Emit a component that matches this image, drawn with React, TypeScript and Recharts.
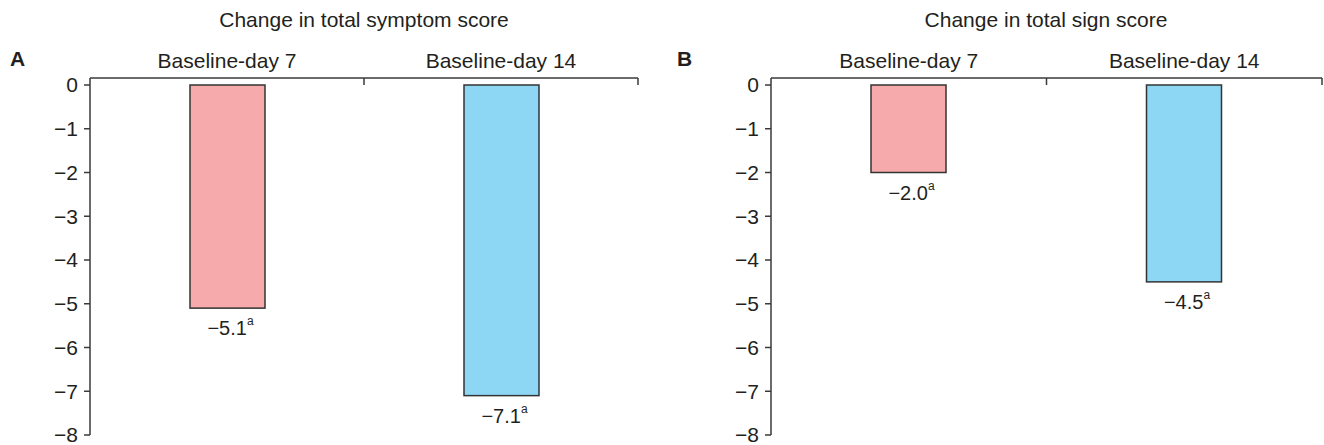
import { BarChart, Bar, XAxis, YAxis, LabelList } from "recharts"

const categories = ["Baseline-day 7", "Baseline-day 14"]
const symptomChange = [-5.1, -7.1]
const signChange = [-2.0, -4.5]
const positions = [0.5, 1.5]
const barColors = ["#f6aaab", "#8dd7f5"]
const yTicks = [0, -1, -2, -3, -4, -5, -6, -7, -8]
const boundaryTicks = [0, 1, 2]
const titles = ["Change in total symptom score", "Change in total sign score"]
const panelLetters = ["A", "B"]

const ink = "#231f20"
const axisColor = "#3a3a3a"
const font = "'Liberation Sans', Arial, sans-serif"

const minus = (v: number) => (v < 0 ? "\u2212" + Math.abs(v) : String(v))

function ValueLabel(props: any) {
  const { x, y, width, height, value } = props
  const bottom = Math.max(y, y + height)
  const txt = "\u2212" + Math.abs(value).toFixed(1)
  return (
    <text x={x + width / 2 + 3} y={bottom + 27} textAnchor="middle" fontSize={20} fill={ink} fontFamily={font}>
      {txt}
      <tspan fontSize={12} dy={-10}>a</tspan>
    </text>
  )
}

const NoLabel = () => <g />

function Panel({ values, marginLeft, marginRight }: { values: number[]; marginLeft: number; marginRight: number }) {
  const data = categories.map((c, i) => ({ name: c, value: values[i], pos: positions[i], color: barColors[i] }))
  return (
    <BarChart
      width={662}
      height={445}
      data={data}
      margin={{ top: 40, right: marginRight, bottom: 10, left: marginLeft }}
      style={{ fontFamily: font, overflow: "visible" }}
    >
      <XAxis
        xAxisId="cat"
        dataKey="name"
        orientation="top"
        height={38}
        tickLine={false}
        tickSize={0}
        tickMargin={10}
        axisLine={{ stroke: axisColor, strokeWidth: 1.5 }}
        tick={{ fill: ink, fontSize: 21 }}
      />
      <XAxis
        xAxisId="bounds"
        type="number"
        dataKey="pos"
        orientation="top"
        domain={[0, 2]}
        ticks={boundaryTicks}
        interval={0}
        height={7}
        tick={NoLabel}
        tickSize={7}
        axisLine={false}
        tickLine={{ stroke: axisColor, strokeWidth: 1.5 }}
      />
      <YAxis
        width={50}
        domain={[-8, 0]}
        ticks={yTicks}
        interval={0}
        tickFormatter={minus}
        tickSize={6}
        tickMargin={6}
        axisLine={{ stroke: axisColor, strokeWidth: 1.5 }}
        tickLine={{ stroke: axisColor, strokeWidth: 1.5 }}
        tick={{ fill: ink, fontSize: 21 }}
      />
      <Bar xAxisId="cat" dataKey="value" barSize={75} stroke="#333" strokeWidth={1.5} isAnimationActive={false}
        shape={(p: any) => {
          const top = Math.min(p.y, p.y + p.height)
          return <rect x={p.x} y={top} width={p.width} height={Math.abs(p.height)} fill={p.payload.color} stroke="#333" strokeWidth={1.5} />
        }}
      >
        <LabelList dataKey="value" content={ValueLabel} />
      </Bar>
    </BarChart>
  )
}

export default function App() {
  return (
    <div style={{ position: "absolute", left: 0, top: 0, width: 1324, height: 445, background: "#fff", fontFamily: font, color: ink }}>
      <div style={{ position: "absolute", left: 0, top: 0 }}>
        <Panel values={symptomChange} marginLeft={40} marginRight={24} />
      </div>
      <div style={{ position: "absolute", left: 662, top: 0 }}>
        <Panel values={signChange} marginLeft={59} marginRight={2} />
      </div>
      <div style={{ position: "absolute", left: 164, width: 400, top: 8, textAlign: "center", fontSize: 21 }}>{titles[0]}</div>
      <div style={{ position: "absolute", left: 846, width: 400, top: 8, textAlign: "center", fontSize: 21 }}>{titles[1]}</div>
      <div style={{ position: "absolute", left: 10, top: 47, fontSize: 21, fontWeight: "bold" }}>{panelLetters[0]}</div>
      <div style={{ position: "absolute", left: 677, top: 47, fontSize: 21, fontWeight: "bold" }}>{panelLetters[1]}</div>
    </div>
  )
}
